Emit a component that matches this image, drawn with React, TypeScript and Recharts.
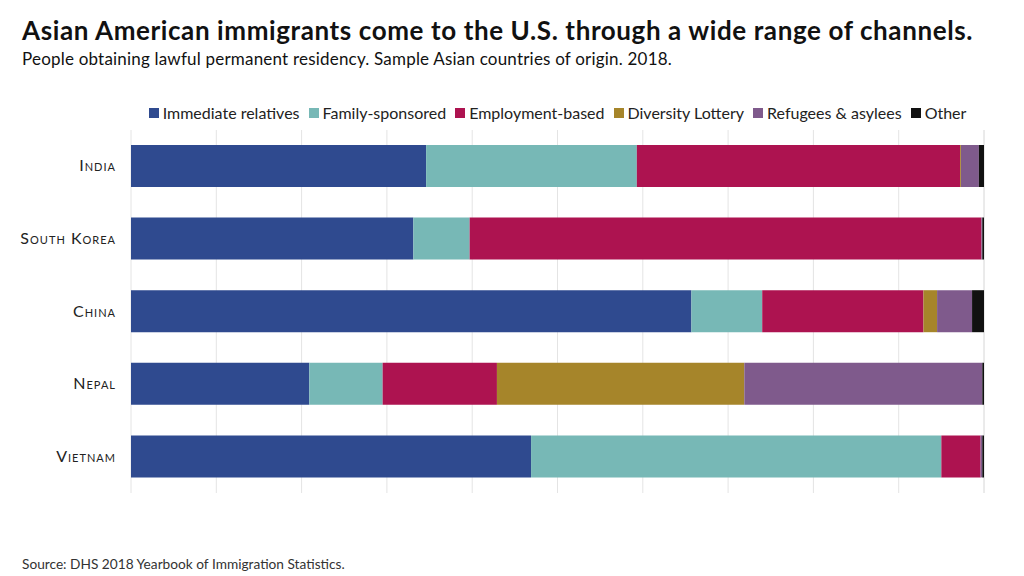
import { Bar, BarChart, CartesianGrid, XAxis, YAxis } from "recharts";

const countries = ["India", "South Korea", "China", "Nepal", "Vietnam"];

// shares of each country's 2018 green cards, percent
const immediateRelatives = [34.6, 33.1, 65.7, 20.9, 46.9];
const familySponsored = [24.7, 6.6, 8.3, 8.6, 48.1];
const employmentBased = [37.9, 60.0, 18.9, 13.4, 4.6];
const diversityLottery = [0.1, 0.0, 1.6, 29.0, 0.0];
const refugeesAsylees = [2.1, 0.1, 4.1, 27.9, 0.2];
const other = [0.6, 0.2, 1.4, 0.2, 0.2];

const xTicks = [0, 10, 20, 30, 40, 50, 60, 70, 80, 90, 100];

// note: don't use "ref" as a data key, recharts spreads row fields onto the rects
const SERIES = [
  { key: "immediate", name: "Immediate relatives", color: "#2f4a8f", values: immediateRelatives },
  { key: "family", name: "Family-sponsored", color: "#77b8b6", values: familySponsored },
  { key: "employment", name: "Employment-based", color: "#ad1350", values: employmentBased },
  { key: "diversity", name: "Diversity Lottery", color: "#a6852a", values: diversityLottery },
  { key: "refugees", name: "Refugees & asylees", color: "#7f5a8c", values: refugeesAsylees },
  { key: "other", name: "Other", color: "#111111", values: other },
];

const data = countries.map((country, i) => {
  const row: Record<string, string | number> = { country };
  SERIES.forEach((s) => {
    row[s.key] = s.values[i];
  });
  return row;
});

const FONT = "Lato, 'Open Sans', sans-serif";

function renderCountryTick(props: any) {
  const { x, y, payload } = props;
  return (
    <text
      x={x}
      y={y}
      dy={5}
      textAnchor="end"
      fill="#222"
      fontSize={16}
      fontFamily={FONT}
      letterSpacing={1}
      style={{ fontVariant: "small-caps" }}
    >
      {payload.value}
    </text>
  );
}

// keeps the ticks (for the grid) but draws no labels
const renderNoTick = () => <g />;

export default function App() {
  return (
    <div
      style={{
        position: "absolute",
        left: 0,
        top: 0,
        width: 1024,
        height: 576,
        background: "#fff",
        fontFamily: FONT,
        color: "#111",
      }}
    >
      <div
        style={{
          position: "absolute",
          left: 22,
          top: 14,
          fontSize: 26,
          fontWeight: 700,
          letterSpacing: 0.6,
          whiteSpace: "nowrap",
        }}
      >
        Asian American immigrants come to the U.S. through a wide range of channels.
      </div>
      <div
        style={{
          position: "absolute",
          left: 22,
          top: 48,
          fontSize: 17,
          letterSpacing: 0.2,
          whiteSpace: "nowrap",
        }}
      >
        People obtaining lawful permanent residency. Sample Asian countries of origin. 2018.
      </div>

      <div
        style={{
          position: "absolute",
          left: 131,
          width: 853,
          top: 103,
          display: "flex",
          justifyContent: "center",
          gap: 9,
          fontSize: 16,
          color: "#222",
          whiteSpace: "nowrap",
        }}
      >
        {SERIES.map((s) => (
          <div key={s.key} style={{ display: "flex", alignItems: "center", gap: 4 }}>
            <span style={{ width: 10, height: 10, background: s.color, display: "inline-block" }} />
            {s.name}
          </div>
        ))}
      </div>

      <div style={{ position: "absolute", left: 0, top: 0 }}>
        <BarChart
          width={1024}
          height={576}
          data={data}
          layout="vertical"
          margin={{ top: 130, right: 40, left: 0, bottom: 83 }}
        >
          <CartesianGrid horizontal={false} stroke="#e4e4e4" />
          <XAxis
            type="number"
            domain={[0, 100]}
            ticks={xTicks}
            interval={0}
            tick={renderNoTick}
            tickLine={false}
            axisLine={false}
            height={0}
          />
          <YAxis
            type="category"
            dataKey="country"
            width={131}
            tickLine={false}
            axisLine={false}
            tickSize={0}
            tickMargin={15}
            tick={renderCountryTick}
          />
          {SERIES.map((s) => (
            <Bar
              key={s.key}
              dataKey={s.key}
              name={s.name}
              stackId="a"
              fill={s.color}
              barSize={42}
              isAnimationActive={false}
            />
          ))}
        </BarChart>
      </div>

      <div
        style={{
          position: "absolute",
          left: 22,
          top: 555,
          fontSize: 13.7,
          color: "#333",
          whiteSpace: "nowrap",
        }}
      >
        Source: DHS 2018 Yearbook of Immigration Statistics.
      </div>
    </div>
  );
}
